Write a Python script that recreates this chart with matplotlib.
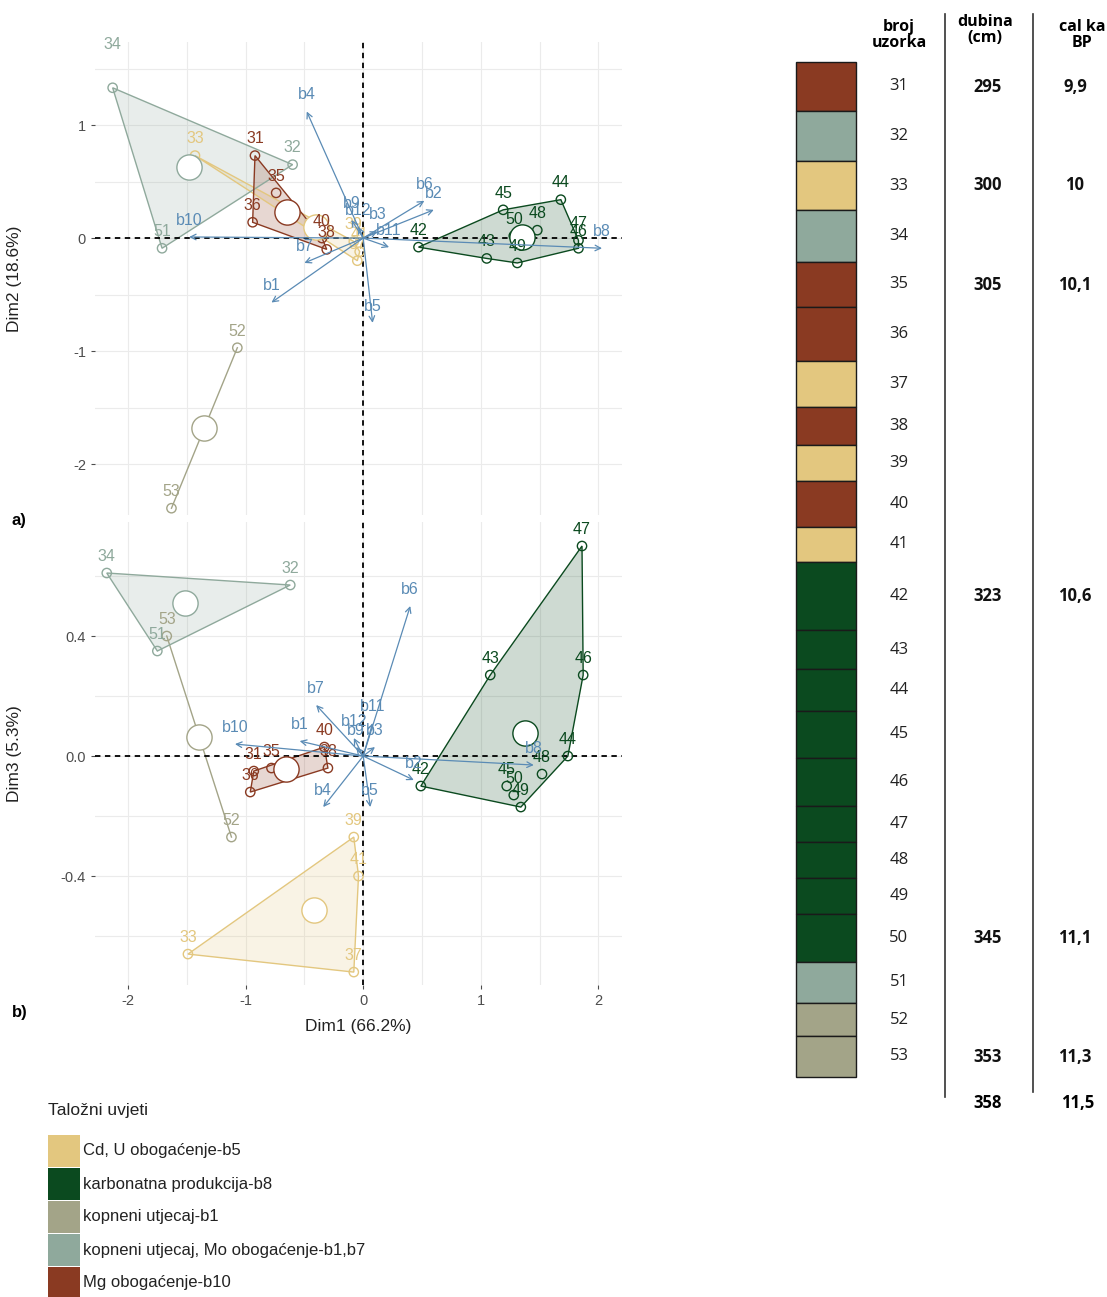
import numpy as np
import matplotlib
matplotlib.use("Agg")
import matplotlib.pyplot as plt
from matplotlib.patches import Polygon, Rectangle

plt.rcParams['font.family'] = ['Liberation Sans', 'DejaVu Sans']
plt.rcParams['axes.unicode_minus'] = False

# ---- data ----
group_names = ['Cd, U obogaćenje-b5', 'karbonatna produkcija-b8', 'kopneni utjecaj-b1',
               'kopneni utjecaj, Mo obogaćenje-b1,b7', 'Mg obogaćenje-b10']
group_colors = ['#E3C77F', '#0B4A1F', '#A3A488', '#8FA99C', '#8A3A22']

samples = [31, 32, 33, 34, 35, 36, 37, 38, 39, 40, 41, 42,
           43, 44, 45, 46, 47, 48, 49, 50, 51, 52, 53]
sample_group = [4, 3, 0, 3, 4, 4, 0, 4, 0, 4, 0, 1,
                1, 1, 1, 1, 1, 1, 1, 1, 3, 2, 2]

# individuals, panel a (Dim1 x Dim2)
dim1_a = [-0.92, -0.60, -1.43, -2.13, -0.74, -0.94, -0.05, -0.31, -0.08, -0.35, -0.03, 0.47,
          1.05, 1.68, 1.19, 1.83, 1.83, 1.48, 1.31, 1.28, -1.71, -1.07, -1.63]
dim2_a = [0.73, 0.65, 0.73, 1.33, 0.40, 0.14, -0.20, -0.10, -0.03, 0.00, -0.12, -0.08,
          -0.18, 0.34, 0.25, -0.09, -0.02, 0.07, -0.22, 0.02, -0.09, -0.97, -2.39]

# individuals, panel b (Dim1 x Dim3)
dim1_b = [-0.93, -0.62, -1.49, -2.18, -0.78, -0.96, -0.08, -0.30, -0.08, -0.33, -0.04, 0.49,
          1.08, 1.74, 1.22, 1.87, 1.86, 1.52, 1.34, 1.28, -1.75, -1.12, -1.67]
dim3_b = [-0.05, 0.57, -0.66, 0.61, -0.04, -0.12, -0.72, -0.04, -0.27, 0.03, -0.40, -0.10,
          0.27, 0.00, -0.10, 0.27, 0.70, -0.06, -0.17, -0.13, 0.35, -0.27, 0.40]

# variables
var_names = ['b1', 'b2', 'b3', 'b4', 'b5', 'b6', 'b7', 'b8', 'b9', 'b10', 'b11', 'b12']
var_a_x = [-0.78, 0.60, 0.12, -0.48, 0.08, 0.52, -0.50, 2.03, -0.10, -1.48, 0.22, -0.04]
var_a_y = [-0.57, 0.25, 0.06, 1.12, -0.75, 0.33, -0.22, -0.09, 0.16, 0.01, -0.08, 0.10]
var_b_x = [-0.54, 0.43, 0.10, -0.34, 0.06, 0.40, -0.40, 1.45, -0.06, -1.09, 0.08, -0.08]
var_b_y = [0.05, -0.08, 0.03, -0.17, -0.17, 0.50, 0.17, -0.03, 0.03, 0.04, 0.11, 0.06]

# core log
depth_labels = ['295', '', '300', '', '305', '', '', '', '', '', '', '323',
                '', '', '', '', '', '', '', '345', '', '', '353']
age_labels = ['9,9', '', '10', '', '10,1', '', '', '', '', '', '', '10,6',
              '', '', '', '', '', '', '', '11,1', '', '', '11,3']
bottom_depth = '358'
bottom_age = '11,5'

# ---- layout ----
W, H = 1107, 1297
row_edges = [62, 111, 161, 210, 262, 307, 361, 407, 445, 481, 527, 562, 630,
             669, 711, 758, 806, 842, 878, 914, 962, 1003, 1036, 1077]
arrow_col = '#5A8BB5'
grid_col = '#EBEBEB'
tick_col = '#4D4D4D'
AX_L, AX_W = 95, 527


def hull(pts):
    pts = sorted(set(map(tuple, pts)))
    if len(pts) < 3:
        return pts

    def cross(o, a, b):
        return (a[0] - o[0]) * (b[1] - o[1]) - (a[1] - o[1]) * (b[0] - o[0])
    lower, upper = [], []
    for p in pts:
        while len(lower) >= 2 and cross(lower[-2], lower[-1], p) <= 0:
            lower.pop()
        lower.append(p)
    for p in reversed(pts):
        while len(upper) >= 2 and cross(upper[-2], upper[-1], p) <= 0:
            upper.pop()
        upper.append(p)
    return lower[:-1] + upper[:-1]


def biplot(ax, xs, ys, vx, vy, label_off):
    xs, ys = np.array(xs), np.array(ys)
    g = np.array(sample_group)
    for k, c in enumerate(group_colors):
        m = g == k
        pts = np.column_stack([xs[m], ys[m]])
        hp = hull(pts)
        if len(hp) >= 3:
            ax.add_patch(Polygon(hp, closed=True, facecolor=c, alpha=0.2, edgecolor='none', zorder=1))
            ax.add_patch(Polygon(hp, closed=True, facecolor='none', edgecolor=c, lw=1.0, zorder=2))
        else:
            ax.plot([p[0] for p in hp], [p[1] for p in hp], color=c, lw=1.0, zorder=2)
        ax.scatter(xs[m], ys[m], s=45, facecolor='none', edgecolor=c, lw=1.0, zorder=3)
        ax.scatter([xs[m].mean()], [ys[m].mean()], s=330, facecolor='white', edgecolor=c, lw=1.0, zorder=4)
    ax.axhline(0, color='black', ls=(0, (3, 2.5)), lw=1.3, zorder=2.5)
    ax.axvline(0, color='black', ls=(0, (3, 2.5)), lw=1.3, zorder=2.5)
    for i, s in enumerate(samples):
        dx, dy = label_off.get(s, (0, 12))
        ax.annotate(str(s), (xs[i], ys[i]), xytext=(dx, dy), textcoords='offset points',
                    ha='center', va='center', fontsize=11.5, color=group_colors[sample_group[i]], zorder=5)
    for name, x, y in zip(var_names, vx, vy):
        ax.annotate('', xy=(x, y), xytext=(0, 0),
                    arrowprops=dict(arrowstyle='->', color=arrow_col, lw=0.9,
                                    shrinkA=0, shrinkB=0, mutation_scale=10), zorder=6)
        ax.annotate(name, (x, y), xytext=(0, 12), textcoords='offset points',
                    ha='center', va='center', fontsize=11.5, color=arrow_col, zorder=6)
    ax.set_facecolor('none')
    for sp in ax.spines.values():
        sp.set_visible(False)
    ax.grid(True, which='both', color=grid_col, lw=0.8, zorder=0)
    ax.set_axisbelow(True)
    ax.tick_params(which='major', length=3, color=tick_col, labelcolor=tick_col, labelsize=10.5)
    ax.tick_params(which='minor', length=0)


fig = plt.figure(figsize=(W / 100, H / 100), dpi=100)
bg = fig.add_axes([0, 0, 1, 1])
bg.set_xlim(0, W)
bg.set_ylim(H, 0)
bg.axis('off')

# panel a
ax_a = fig.add_axes([AX_L / W, 1 - 515 / H, AX_W / W, 473 / H])
biplot(ax_a, dim1_a, dim2_a, var_a_x, var_a_y, {34: (0, 31)})
ax_a.set_xlim(-2.28, 2.20)
ax_a.set_ylim(-2.45, 1.735)
ax_a.set_xticks([-2, -1, 0, 1, 2])
ax_a.set_xticks([-1.5, -0.5, 0.5, 1.5], minor=True)
ax_a.set_yticks([-2, -1, 0, 1])
ax_a.set_yticks([-1.5, -0.5, 0.5, 1.5], minor=True)
ax_a.tick_params(axis='x', which='both', labelbottom=False, length=0)
ax_a.set_ylabel('Dim2 (18.6%)', fontsize=12.5, color='#222222')

# panel b
ax_b = fig.add_axes([AX_L / W, 1 - 985 / H, AX_W / W, 463 / H])
biplot(ax_b, dim1_b, dim3_b, var_b_x, var_b_y, {})
ax_b.set_xlim(-2.28, 2.20)
ax_b.set_ylim(-0.763, 0.78)
ax_b.set_xticks([-2, -1, 0, 1, 2])
ax_b.set_xticks([-1.5, -0.5, 0.5, 1.5], minor=True)
ax_b.set_yticks([-0.4, 0.0, 0.4])
ax_b.set_yticklabels(['-0.4', '0.0', '0.4'])
ax_b.set_yticks([-0.6, -0.2, 0.2, 0.6], minor=True)
ax_b.set_ylabel('Dim3 (5.3%)', fontsize=12.5, color='#222222')
ax_b.set_xlabel('Dim1 (66.2%)', fontsize=12.5, color='#222222', labelpad=8)
lab_x = (22 - AX_L) / AX_W
ax_a.yaxis.set_label_coords(lab_x, 0.5)
ax_b.yaxis.set_label_coords(lab_x, 0.5)

bg.text(12, 520, 'a)', fontsize=12, fontweight='bold', va='center')
bg.text(12, 1012, 'b)', fontsize=12, fontweight='bold', va='center')

# legend
bg.text(48, 1111, 'Taložni uvjeti', fontsize=12.5, va='center', color='#222222')
key_tops = [1135, 1168, 1201, 1234, 1267]
for name, c, top in zip(group_names, group_colors, key_tops):
    bg.add_patch(Rectangle((48, top), 32, 32, facecolor=c, edgecolor='none'))
    bg.text(83, top + 16, name, fontsize=12, va='center', color='#222222')

# core column
cf = 'Open Sans'
for i, s in enumerate(samples):
    y0, y1 = row_edges[i], row_edges[i + 1]
    bg.add_patch(Rectangle((796, y0), 60, y1 - y0, facecolor=group_colors[sample_group[i]],
                           edgecolor='#1a1a1a', lw=1.0))
    ym = (y0 + y1) / 2
    bg.text(899, ym, str(s), fontsize=12, ha='center', va='center', family=cf, color='#222222')
    if depth_labels[i]:
        bg.text(988, ym, depth_labels[i], fontsize=12, ha='center', va='center', family=cf,
                fontweight='bold', color='#111111')
        bg.text(1075, ym, age_labels[i], fontsize=12, ha='center', va='center', family=cf,
                fontweight='bold', color='#111111')
bg.text(988, 1103, bottom_depth, fontsize=12, ha='center', va='center', family=cf, fontweight='bold')
bg.text(1078, 1103, bottom_age, fontsize=12, ha='center', va='center', family=cf, fontweight='bold')

bg.text(899, 35, 'broj\nuzorka', fontsize=11.5, ha='center', va='center', family=cf,
        fontweight='bold', linespacing=0.95)
bg.text(985, 30, 'dubina\n(cm)', fontsize=11.5, ha='center', va='center', family=cf,
        fontweight='bold', linespacing=0.95)
bg.text(1082, 35, 'cal ka\nBP', fontsize=11.5, ha='center', va='center', family=cf,
        fontweight='bold', linespacing=0.95)
bg.plot([945, 945], [14, 1097], color='#333333', lw=1.2)
bg.plot([1033, 1033], [14, 1092], color='#333333', lw=1.2)

fig.savefig('out.png', dpi=100)
